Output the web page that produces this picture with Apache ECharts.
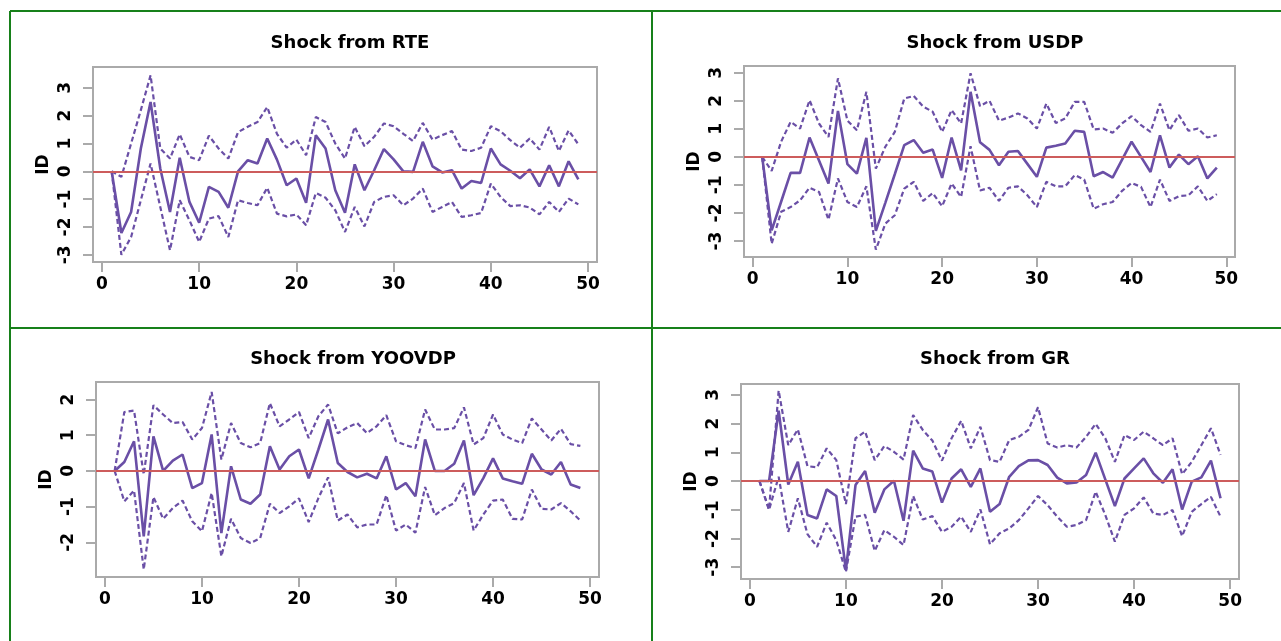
<!DOCTYPE html>
<html><head><meta charset="utf-8">
<script src="https://cdn.jsdelivr.net/npm/echarts@6/dist/echarts.min.js"></script>
<style>html,body{margin:0;padding:0;background:#fff}#c{width:1281px;height:641px}</style>
</head><body><div id="c"></div>
<script>
const steps = [1,2,3,4,5,6,7,8,9,10,11,12,13,14,15,16,17,18,19,20,21,22,23,24,25,26,27,28,29,30,31,32,33,34,35,36,37,38,39,40,41,42,43,44,45,46,47,48,49];
const xTicks = [0,10,20,30,40,50];
const titles = ['Shock from RTE','Shock from USDP','Shock from YOOVDP','Shock from GR'];
const yName = 'ID';

const rteMid = [0,-2.22,-1.46,0.82,2.49,0.1,-1.46,0.49,-1.10,-1.85,-0.56,-0.74,-1.31,0.0,0.4,0.28,1.18,0.42,-0.5,-0.26,-1.13,1.30,0.82,-0.68,-1.49,0.25,-0.68,0.04,0.8,0.43,0.0,-0.02,1.06,0.18,-0.04,0.04,-0.62,-0.35,-0.42,0.82,0.25,0.02,-0.25,0.07,-0.54,0.22,-0.54,0.36,-0.29];
const rteUp = [0,-0.2,1.0,2.2,3.45,0.82,0.46,1.33,0.52,0.40,1.28,0.82,0.46,1.41,1.6,1.77,2.31,1.35,0.85,1.14,0.58,1.95,1.77,1.0,0.46,1.6,0.9,1.24,1.72,1.62,1.35,1.09,1.74,1.14,1.3,1.45,0.78,0.73,0.85,1.62,1.44,1.12,0.85,1.18,0.78,1.6,0.73,1.47,0.97];
const rteLo = [0,-3.0,-2.36,-1.04,0.28,-1.28,-2.84,-1.04,-1.76,-2.54,-1.70,-1.61,-2.36,-1.04,-1.14,-1.22,-0.59,-1.52,-1.62,-1.55,-1.94,-0.78,-0.95,-1.40,-2.18,-1.28,-1.98,-1.1,-0.92,-0.86,-1.22,-0.98,-0.62,-1.46,-1.28,-1.1,-1.64,-1.58,-1.5,-0.44,-0.92,-1.25,-1.22,-1.3,-1.55,-1.1,-1.46,-0.98,-1.19];

const usdpMid = [0,-2.62,-1.6,-0.57,-0.57,0.69,-0.13,-0.95,1.64,-0.26,-0.6,0.68,-2.64,-1.64,-0.62,0.42,0.6,0.15,0.26,-0.75,0.69,-0.48,2.32,0.52,0.25,-0.3,0.18,0.21,-0.25,-0.71,0.33,0.4,0.48,0.93,0.89,-0.69,-0.54,-0.74,-0.1,0.54,0.0,-0.54,0.77,-0.38,0.08,-0.26,0.02,-0.77,-0.38];
const usdpUp = [0,-0.5,0.54,1.25,1.01,2.02,1.19,0.71,2.8,1.29,0.95,2.32,-0.42,0.36,0.89,2.08,2.17,1.79,1.61,0.89,1.67,1.19,2.98,1.81,2.0,1.29,1.4,1.55,1.37,1.01,1.9,1.21,1.37,1.96,1.96,0.98,1.01,0.86,1.19,1.45,1.13,0.89,1.9,0.95,1.49,0.93,1.01,0.69,0.77];
const usdpLo = [0,-3.1,-1.96,-1.79,-1.55,-1.1,-1.25,-2.24,-0.77,-1.61,-1.79,-1.05,-3.31,-2.38,-2.08,-1.13,-0.89,-1.57,-1.29,-1.76,-0.95,-1.43,0.38,-1.2,-1.1,-1.57,-1.1,-1.05,-1.37,-1.79,-0.89,-1.05,-1.05,-0.65,-0.81,-1.85,-1.69,-1.61,-1.21,-0.93,-1.07,-1.79,-0.81,-1.57,-1.4,-1.37,-1.05,-1.57,-1.33];

const yoovdpMid = [0,0.25,0.83,-1.83,0.97,0,0.29,0.46,-0.48,-0.34,1.02,-1.74,0.13,-0.8,-0.92,-0.66,0.69,0.04,0.41,0.6,-0.21,0.6,1.44,0.22,-0.03,-0.18,-0.08,-0.21,0.41,-0.52,-0.34,-0.71,0.88,0,0,0.2,0.85,-0.68,-0.2,0.35,-0.21,-0.29,-0.36,0.48,0.04,-0.1,0.25,-0.38,-0.48];
const yoovdpUp = [0,1.65,1.69,-0.1,1.84,1.58,1.34,1.37,0.88,1.2,2.21,0.32,1.34,0.78,0.66,0.78,1.9,1.25,1.44,1.65,0.92,1.53,1.86,1.05,1.22,1.34,1.06,1.25,1.56,0.83,0.72,0.64,1.72,1.16,1.16,1.2,1.78,0.74,0.92,1.58,1.02,0.88,0.78,1.47,1.16,0.85,1.18,0.75,0.7];
const yoovdpLo = [0,-0.85,-0.55,-2.76,-0.73,-1.34,-1.04,-0.83,-1.41,-1.69,-0.62,-2.39,-1.34,-1.88,-2.02,-1.88,-0.92,-1.18,-0.99,-0.77,-1.43,-0.76,-0.18,-1.39,-1.22,-1.58,-1.5,-1.5,-0.68,-1.67,-1.5,-1.73,-0.45,-1.24,-1.04,-0.9,-0.34,-1.67,-1.22,-0.83,-0.8,-1.34,-1.36,-0.52,-1.06,-1.08,-0.9,-1.13,-1.39];

const grMid = [0,0,2.45,-0.12,0.67,-1.18,-1.3,-0.29,-0.52,-3.1,-0.14,0.35,-1.1,-0.29,0.01,-1.38,1.06,0.44,0.33,-0.75,0.09,0.41,-0.2,0.44,-1.07,-0.8,0.15,0.52,0.72,0.73,0.56,0.12,-0.08,-0.05,0.21,0.99,0.06,-0.87,0.09,0.44,0.79,0.27,-0.06,0.41,-0.99,-0.02,0.13,0.71,-0.6];
const grUp = [0,-0.99,3.15,1.25,1.8,0.52,0.48,1.14,0.73,-0.8,1.49,1.72,0.73,1.22,1.02,0.75,2.3,1.78,1.41,0.71,1.49,2.1,1.14,1.89,0.73,0.67,1.43,1.54,1.78,2.57,1.31,1.17,1.25,1.17,1.54,1.99,1.49,0.67,1.6,1.43,1.72,1.49,1.25,1.49,0.24,0.67,1.25,1.84,0.91];
const grLo = [0,-1.0,0.15,-1.77,-0.6,-1.85,-2.29,-1.45,-2.06,-3.16,-1.24,-1.18,-2.43,-1.71,-1.94,-2.23,-0.52,-1.34,-1.22,-1.77,-1.59,-1.24,-1.77,-0.99,-2.2,-1.82,-1.65,-1.36,-0.95,-0.52,-0.84,-1.24,-1.59,-1.53,-1.36,-0.37,-1.18,-2.11,-1.18,-0.95,-0.57,-1.13,-1.18,-1.01,-1.92,-1.07,-0.8,-0.55,-1.24];

const yTicksA = [-3,-2,-1,0,1,2,3];
const yTicksB = [-2,-1,0,1,2];

const panels = [
  {mid: rteMid, up: rteUp, lo: rteLo, yTicks: yTicksA, ymin: -3.26, ymax: 3.75, grid: {left: 93, top: 67, width: 504, height: 195}, tx: 345, ty: 29},
  {mid: usdpMid, up: usdpUp, lo: usdpLo, yTicks: yTicksA, ymin: -3.57, ymax: 3.24, grid: {left: 744, top: 66, width: 491, height: 191}, tx: 990, ty: 29},
  {mid: yoovdpMid, up: yoovdpUp, lo: yoovdpLo, yTicks: yTicksB, ymin: -2.97, ymax: 2.49, grid: {left: 96, top: 382, width: 503, height: 195}, tx: 348, ty: 345},
  {mid: grMid, up: grUp, lo: grLo, yTicks: yTicksA, ymin: -3.41, ymax: 3.38, grid: {left: 741, top: 384, width: 498, height: 195}, tx: 990, ty: 345}
];

const FONT = 'DejaVu Sans';
const PURPLE = '#6a4fa6';
const RED = '#cd5c5c';
const GRAY = '#aaaaaa';
const GREEN = '#17801a';

const option = {
  animation: false,
  backgroundColor: '#ffffff',
  title: [], grid: [], xAxis: [], yAxis: [], series: [],
  graphic: [
    {type:'line', shape:{x1:10,y1:11,x2:1281,y2:11}, style:{stroke:GREEN,lineWidth:2}},
    {type:'line', shape:{x1:10,y1:11,x2:10,y2:641}, style:{stroke:GREEN,lineWidth:2}},
    {type:'line', shape:{x1:652,y1:11,x2:652,y2:641}, style:{stroke:GREEN,lineWidth:2}},
    {type:'line', shape:{x1:10,y1:328,x2:1281,y2:328}, style:{stroke:GREEN,lineWidth:2}}
  ]
};

panels.forEach((p, k) => {
  option.title.push({text: titles[k], left: p.tx, top: p.ty, textAlign: 'center',
    textStyle: {fontFamily: FONT, fontWeight: 'bold', fontSize: 18, color: '#000'}});
  option.grid.push(Object.assign({show: true, borderColor: GRAY, borderWidth: 2, backgroundColor: '#fff'}, p.grid));
  option.xAxis.push({type: 'value', gridIndex: k, min: -0.92, max: 50.92, position: 'bottom',
    axisLine: {show: false, onZero: false}, splitLine: {show: false},
    axisTick: {show: true, length: 10, lineStyle: {color: GRAY, width: 2}, customValues: xTicks},
    axisLabel: {customValues: xTicks, margin: 14, fontFamily: FONT, fontWeight: 'bold', fontSize: 17, color: '#000'}});
  option.yAxis.push({type: 'value', gridIndex: k, min: p.ymin, max: p.ymax, position: 'left',
    name: yName, nameLocation: 'middle', nameRotate: 90, nameGap: 41,
    nameTextStyle: {fontFamily: FONT, fontWeight: 'bold', fontSize: 17, color: '#000'},
    axisLine: {show: false, onZero: false}, splitLine: {show: false},
    axisTick: {show: true, length: 10, lineStyle: {color: GRAY, width: 2}, customValues: p.yTicks},
    axisLabel: {customValues: p.yTicks, rotate: 90, margin: 19, fontFamily: FONT, fontWeight: 'bold', fontSize: 17, color: '#000'}});
  const mk = (arr) => steps.map((s, i) => [s, arr[i]]);
  option.series.push({type: 'line', xAxisIndex: k, yAxisIndex: k, data: mk(p.up), symbol: 'none', z: 3,
    lineStyle: {color: PURPLE, width: 2.2, type: [5, 3]}});
  option.series.push({type: 'line', xAxisIndex: k, yAxisIndex: k, data: mk(p.lo), symbol: 'none', z: 3,
    lineStyle: {color: PURPLE, width: 2.2, type: [5, 3]}});
  option.series.push({type: 'line', xAxisIndex: k, yAxisIndex: k, data: mk(p.mid), symbol: 'none', z: 4,
    lineStyle: {color: PURPLE, width: 2.6}});
  option.series.push({type: 'line', xAxisIndex: k, yAxisIndex: k, data: [], symbol: 'none', z: 5,
    markLine: {silent: true, symbol: 'none', label: {show: false},
      lineStyle: {color: RED, width: 2.2, type: 'solid'}, data: [{yAxis: 0}]}});
});

const chart = echarts.init(document.getElementById('c'), null, {renderer: 'canvas'});
chart.setOption(option);
</script></body></html>
